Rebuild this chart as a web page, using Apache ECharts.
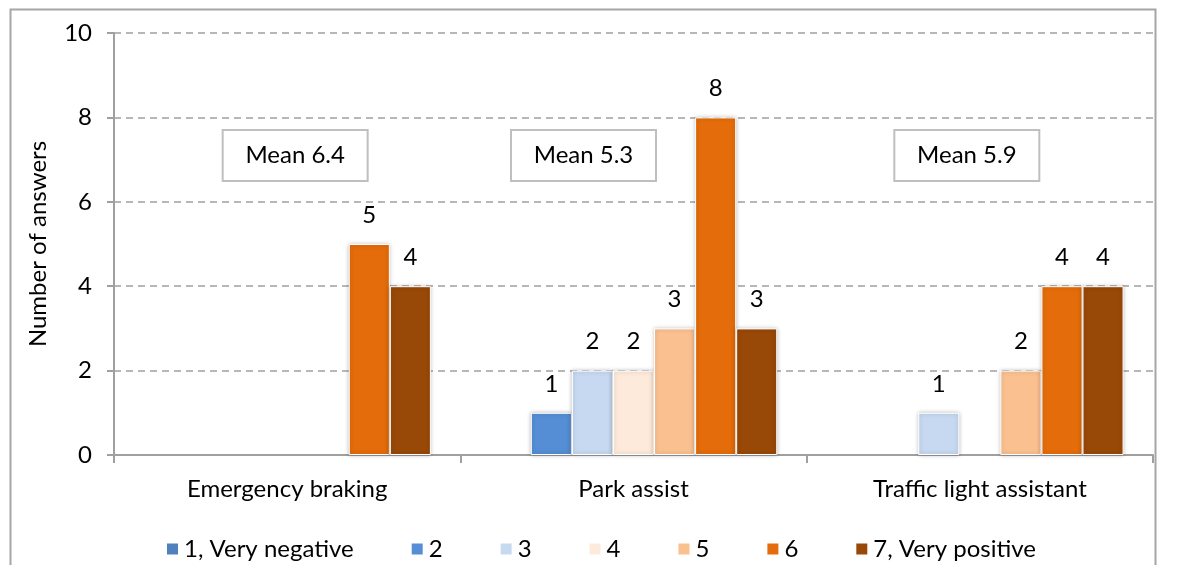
<!DOCTYPE html>
<html>
<head>
<meta charset="utf-8">
<script src="https://cdn.jsdelivr.net/npm/echarts@6/dist/echarts.min.js"></script>
<style>
html,body{margin:0;padding:0;background:#fff;}
#c{width:1180px;height:565px;}
</style>
</head>
<body>
<div id="c"></div>
<script>
const categories = ['Emergency braking', 'Park assist', 'Traffic light assistant'];
const seriesNames = ['1, Very negative', '2', '3', '4', '5', '6', '7, Very positive'];
const s1 = [0, 0, 0];
const s2 = [0, 1, 0];
const s3 = [0, 2, 1];
const s4 = [0, 2, 0];
const s5 = [0, 3, 2];
const s6 = [5, 8, 4];
const s7 = [4, 3, 4];
const seriesValues = [s1, s2, s3, s4, s5, s6, s7];
const colors = ['#4F81BD', '#558ED5', '#C6D9F1', '#FDEADA', '#FAC090', '#E46C0A', '#984807'];
const meanLabels = ['Mean 6.4', 'Mean 5.3', 'Mean 5.9'];
const yTicks = [0, 2, 4, 6, 8, 10];

const FONT = 'Lato';
const FS = 24;

const chart = echarts.init(document.getElementById('c'), null, {renderer: 'canvas'});

const series = seriesValues.map((vals, i) => ({
  name: seriesNames[i],
  type: 'bar',
  data: vals.map(v => v === 0 ? null : v),
  barGap: '0%',
  barCategoryGap: '17%',
  itemStyle: {
    color: colors[i],
    borderColor: '#ffffff',
    borderWidth: 1,
    shadowBlur: 4,
    shadowColor: 'rgba(0,0,0,0.25)'
  },
  label: {
    show: true,
    position: 'top',
    distance: 17,
    color: '#000',
    fontFamily: FONT,
    fontSize: FS
  }
}));

chart.setOption({
  animation: false,
  color: colors,
  grid: {left: 114, right: 27, top: 33, bottom: 110, containLabel: false},
  legend: {
    left: 160,
    top: 532,
    itemWidth: 13,
    itemHeight: 13,
    itemGap: 56,
    icon: 'rect',
    textStyle: {fontFamily: FONT, fontSize: FS, color: '#000'},
    data: seriesNames
  },
  xAxis: {
    type: 'category',
    data: categories,
    axisLine: {lineStyle: {color: '#a0a0a0', width: 2}},
    axisTick: {show: true, length: 8, lineStyle: {color: '#a0a0a0', width: 2}},
    axisLabel: {fontFamily: FONT, fontSize: FS, color: '#000', margin: 22}
  },
  yAxis: {
    type: 'value',
    min: 0,
    max: 10,
    interval: 2,
    name: 'Number of answers',
    nameLocation: 'middle',
    nameRotate: 90,
    nameGap: 64,
    nameTextStyle: {fontFamily: FONT, fontSize: FS, color: '#000'},
    axisLine: {show: true, lineStyle: {color: '#a0a0a0', width: 2}},
    axisTick: {show: true, inside: false, length: 7, lineStyle: {color: '#a0a0a0', width: 2}},
    axisLabel: {fontFamily: FONT, fontSize: FS, color: '#000', margin: 22},
    splitLine: {show: true, lineStyle: {color: '#a0a0a0', type: [7, 5], width: 1.5}}
  },
  series: series
});

function placeAnnotations() {
  const offsets = [8, -50, -13];
  const g = [];
  g.push({
    type: 'rect', left: 8, top: 7, silent: true,
    shape: {width: 1145, height: 600},
    style: {fill: 'none', stroke: '#a6a6a6', lineWidth: 2}
  });
  meanLabels.forEach((t, i) => {
    const p = chart.convertToPixel({gridIndex: 0}, [i, 7.1]);
    const w = 145, h = 51;
    g.push({
      type: 'group',
      x: p[0] + offsets[i] - w / 2,
      y: p[1] - h / 2,
      children: [
        {type: 'rect', shape: {x: 0, y: 0, width: w, height: h},
         style: {fill: '#fff', stroke: '#bfbfbf', lineWidth: 2}},
        {type: 'text', x: w / 2, y: h / 2,
         style: {text: t, fill: '#000', font: FS + 'px ' + FONT, align: 'center', verticalAlign: 'middle'}}
      ]
    });
  });
  chart.setOption({graphic: g});
}
placeAnnotations();
</script>
</body>
</html>
